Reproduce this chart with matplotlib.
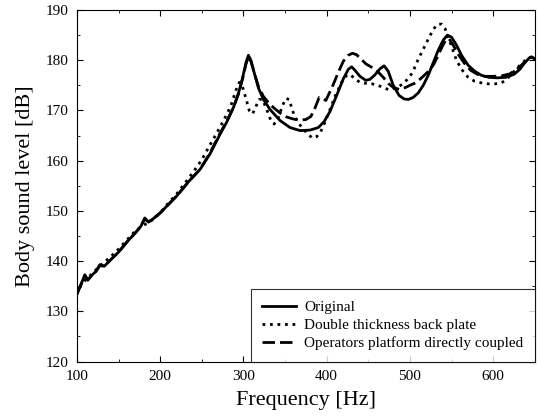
import matplotlib
matplotlib.use("Agg")
import matplotlib.pyplot as plt
from matplotlib.ticker import MultipleLocator

plt.rcParams['font.family'] = ['Liberation Serif', 'DejaVu Serif']

# Original
f_orig = [100, 104, 109.5, 113, 118, 123, 127.5, 133, 140, 150, 160, 170, 177, 181.5, 186, 192,
          200, 210, 220, 235, 248, 260, 272, 280, 288, 294, 299, 303, 306, 309, 313, 318, 324,
          332, 344, 356, 368, 380, 390, 397, 404, 412, 420, 426, 430, 434, 440, 447, 452, 458,
          464, 469, 474, 480, 487, 493, 498, 504, 510, 516, 522, 528, 534, 540, 545, 550, 556,
          562, 570, 578, 586, 595, 605, 615, 625, 632, 638, 643, 646, 650]
l_orig = [133.5, 135, 137.3, 136.2, 137.2, 138, 139.3, 139, 140.2, 141.8, 143.8, 145.6, 147,
          148.6, 147.8, 148.5, 149.6, 151.3, 153, 156, 158.3, 161.4, 165.3, 167.7, 170.6, 173.4,
          176.5, 179.5, 181, 180, 177.5, 174.5, 172.2, 170.2, 168, 166.6, 166, 166.1, 166.6,
          167.8, 169.8, 173, 176.3, 178.2, 178.7, 178, 176.8, 176, 176.2, 177.1, 178.3, 178.9,
          177.8, 175, 173, 172.3, 172.2, 172.6, 173.5, 175, 177, 179.5, 182, 184, 185, 184.6,
          183, 181, 179, 177.8, 177, 176.6, 176.5, 176.6, 177.2, 178.2, 179.5, 180.4, 180.7, 180.3]

# Double thickness back plate
f_double = [100, 105, 110, 115, 120, 130, 140, 150, 160, 170, 180, 186, 192, 200, 210, 220, 230,
            240, 250, 260, 268, 275, 280, 285, 289, 292, 295, 298, 302, 307, 311, 315, 319, 323,
            328, 333, 337, 342, 347, 351, 355, 358, 362, 366, 372, 378, 383, 388, 393, 398, 404,
            410, 418, 424, 428, 434, 440, 447, 455, 462, 470, 476, 484, 491, 497, 503, 510, 516,
            522, 527, 531, 534, 538, 542, 546, 551, 556, 562, 570, 578, 586, 594, 602, 610, 616,
            622, 628, 634, 640, 645, 650]
l_double = [133.4, 135.2, 136.2, 137, 137.8, 139.4, 140.8, 142.4, 144.2, 146, 147.2, 147.6,
            148.4, 149.6, 151.6, 153.4, 155.6, 157.8, 160.2, 163.2, 165.5, 167.7, 169.2, 171,
            173, 174.5, 175.6, 175.2, 173, 170, 169.3, 170.8, 172.2, 172.2, 170.2, 168, 167.3,
            168.6, 171, 172.4, 172.2, 170.5, 168.6, 167.5, 166.3, 165.2, 164.5, 164.8, 165.8,
            167.7, 170.2, 172.8, 175.6, 177, 177.2, 176.3, 175.6, 175.4, 175.3, 175, 174.4,
            174.1, 174.6, 175.2, 176.2, 177.5, 180.2, 182.2, 184.2, 185.8, 186.8, 187.2, 187.2,
            186.4, 184.6, 182.3, 180, 178.2, 176.6, 175.8, 175.5, 175.3, 175.3, 175.5, 176.2,
            177.2, 178.3, 179.3, 180.2, 180.6, 180.3]

# Operators platform directly coupled
f_oper = [100, 104, 109.5, 113, 118, 123, 127.5, 133, 140, 150, 160, 170, 177, 181.5, 186, 192,
          200, 210, 220, 235, 248, 260, 272, 280, 288, 294, 299, 303, 306, 309, 313, 318, 324,
          330, 336, 344, 352, 360, 368, 375, 381, 386, 391, 395, 399, 403, 408, 414, 420, 426,
          431, 436, 441, 447, 454, 461, 468, 474, 480, 487, 495, 501, 507, 514, 521, 528, 534,
          539, 543, 547, 552, 558, 565, 573, 581, 590, 600, 610, 620, 630, 637, 643, 646, 650]
l_oper = [133.5, 135, 137.1, 136.3, 137.2, 138, 139.1, 139, 140.2, 141.8, 143.8, 145.6, 147,
          148.4, 147.8, 148.5, 149.6, 151.3, 153, 156, 158.3, 161.6, 165.5, 167.9, 170.6, 173.3,
          176.3, 179.2, 180.7, 179.8, 177.5, 174.8, 172.8, 171.6, 170.6, 169.5, 168.7, 168.3,
          168.1, 168.2, 168.8, 170.5, 172.6, 172.4, 172, 173.4, 175.2, 177.6, 179.8, 181, 181.4,
          181.1, 180.3, 179.3, 178.6, 177.8, 176.6, 175.4, 174.6, 174.2, 174.6, 175.1, 175.5,
          176.5, 177.6, 179, 181, 182.8, 184, 184.3, 183, 181.2, 179.5, 178, 177.2, 176.8,
          176.8, 176.9, 177.3, 178.4, 179.5, 180.4, 180.6, 180.3]

fig = plt.figure(figsize=(5.38, 4.19), dpi=100)
ax = fig.add_axes([0.143, 0.137, 0.851, 0.839])

ax.plot(f_orig, l_orig, color='black', lw=2.0, ls='-', label='Original')
ax.plot(f_double, l_double, color='black', lw=2.0, ls=(0, (1, 1.7)), label='Double thickness back plate')
ax.plot(f_oper, l_oper, color='black', lw=2.0, ls=(0, (4.5, 1.8)), label='Operators platform directly coupled')

ax.set_xlim(100, 650)
ax.set_ylim(120, 190)
ax.xaxis.set_major_locator(MultipleLocator(100))
ax.xaxis.set_minor_locator(MultipleLocator(50))
ax.yaxis.set_major_locator(MultipleLocator(10))
ax.yaxis.set_minor_locator(MultipleLocator(5))
ax.tick_params(which='both', direction='in', top=True, right=True, labelsize=11)
ax.tick_params(which='major', length=4, width=0.8, pad=6)
ax.tick_params(which='minor', length=2, width=0.6)

ax.set_xlabel('Frequency [Hz]', fontsize=16, labelpad=6)
ax.set_ylabel('Body sound level [dB]', fontsize=16, labelpad=8)

leg = ax.legend(loc='lower right', bbox_to_anchor=(1, 0), borderaxespad=0, fontsize=11,
                fancybox=False, edgecolor='black', handlelength=2.2, handletextpad=0.55,
                labelspacing=0.28, borderpad=0.75)
leg.get_frame().set_linewidth(0.8)

fig.savefig('out.png', dpi=100)
